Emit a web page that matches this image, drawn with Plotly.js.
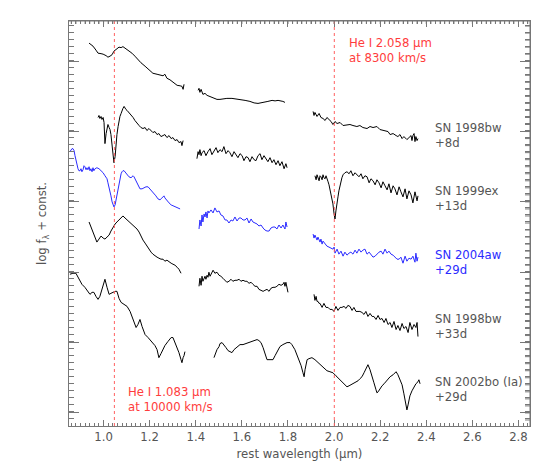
<!DOCTYPE html>
<html>
<head>
<meta charset="utf-8">
<script src="https://cdn.plot.ly/plotly-3.0.1.min.js"></script>
<style>
  body { margin: 0; background: #fff; }
  #chart { width: 550px; height: 472px; }
</style>
</head>
<body>
<div id="chart"></div>
<script>
"use strict";

// He I lines: rest wavelength (micron) and velocity (km/s)
const lineRest = [1.083, 2.058];
const lineVel = [10000, 8300];

// SN 1998bw +8d, three segments (J, H, K)
const w98bw8 = [
  [0.937,0.945,0.954,0.967,0.976,0.989,0.998,1.011,1.019,1.028,1.037,1.045,1.054,1.067,1.076,1.084,1.093,1.102,1.115,1.123,1.136,1.149,1.162,1.180,1.193,1.201,1.214,1.232,1.245,1.258,1.266,1.271,1.275,1.288,1.297,1.310,1.319,1.332,1.340,1.345,1.349],
  [1.410,1.414,1.418,1.423,1.431,1.440,1.449,1.462,1.475,1.492,1.505,1.518,1.535,1.557,1.575,1.592,1.614,1.635,1.653,1.670,1.687,1.700,1.713,1.731,1.744,1.757,1.770,1.778,1.787],
  [1.909,1.913,1.917,1.922,1.926,1.935,1.943,1.952,1.961,1.969,1.978,1.987,1.995,2.004,2.013,2.026,2.039,2.056,2.069,2.082,2.099,2.112,2.125,2.143,2.156,2.169,2.186,2.199,2.212,2.225,2.234,2.243,2.256,2.269,2.277,2.286,2.295,2.303,2.316,2.325,2.334,2.338,2.342,2.347,2.351,2.355,2.360,2.364]
];
const f98bw8 = [
  [38.1,37.95,37.8,37.4,37.1,37.05,37.0,36.85,36.7,36.8,36.95,37.3,37.5,37.7,37.65,37.75,37.6,37.45,37.25,37.1,36.8,36.45,36.15,35.8,35.5,35.3,35.1,35.0,34.95,34.85,35.0,34.7,34.6,34.45,34.3,34.05,33.9,33.85,33.8,33.5,34.0],
  [33.4,33.6,33.2,33.5,33.0,33.1,32.9,32.8,32.65,32.5,32.5,32.55,32.6,32.6,32.55,32.5,32.4,32.3,32.15,32.1,32.15,32.2,32.3,32.4,32.35,32.4,32.35,32.3,32.2],
  [31.3,30.9,31.2,31.0,30.8,31.1,30.7,30.6,30.4,30.7,30.5,30.3,30.0,30.3,30.1,30.2,29.9,30.0,30.0,29.9,29.8,29.9,29.7,29.6,29.8,29.7,29.8,29.5,29.4,29.3,29.3,29.0,29.1,28.9,28.8,29.0,28.6,28.8,28.5,28.7,28.9,28.4,28.9,29.1,28.3,28.8,28.4,28.6]
];

// SN 1999ex +13d
const w99ex = [
  [0.976,0.980,0.984,0.989,0.993,0.998,1.002,1.006,1.011,1.015,1.019,1.024,1.028,1.032,1.037,1.041,1.045,1.050,1.054,1.058,1.063,1.067,1.071,1.076,1.080,1.084,1.089,1.093,1.097,1.102,1.110,1.119,1.128,1.136,1.145,1.154,1.162,1.171,1.180,1.188,1.197,1.206,1.214,1.223,1.232,1.240,1.249,1.258,1.266,1.275,1.284,1.293,1.301,1.310,1.319,1.327,1.336,1.340,1.345],
  [1.405,1.410,1.414,1.418,1.423,1.427,1.436,1.444,1.453,1.462,1.470,1.479,1.488,1.496,1.505,1.514,1.522,1.531,1.540,1.548,1.557,1.566,1.575,1.583,1.592,1.601,1.609,1.618,1.627,1.635,1.644,1.653,1.661,1.670,1.679,1.687,1.696,1.705,1.713,1.722,1.731,1.739,1.748,1.757,1.765,1.774,1.783,1.791,1.796],
  [1.917,1.922,1.926,1.930,1.935,1.939,1.943,1.948,1.952,1.956,1.961,1.965,1.969,1.974,1.978,1.982,1.987,1.991,1.995,2.000,2.004,2.008,2.013,2.017,2.021,2.026,2.030,2.034,2.039,2.047,2.056,2.065,2.073,2.082,2.091,2.099,2.108,2.117,2.125,2.134,2.143,2.152,2.160,2.169,2.178,2.186,2.195,2.204,2.212,2.221,2.230,2.238,2.247,2.256,2.264,2.273,2.282,2.290,2.299,2.308,2.316,2.325,2.334,2.342,2.351,2.360,2.364]
];
const f99ex = [
  [30.7,30.9,30.6,30.8,30.5,30.7,30.2,28.1,29.1,29.8,30.0,29.7,29.5,29.0,27.6,26.6,26.2,26.8,28.1,29.0,29.8,30.4,30.8,31.1,31.4,31.6,31.8,31.6,31.5,31.4,31.2,30.9,30.7,30.4,30.1,29.9,29.7,29.6,29.7,29.4,29.6,29.4,29.2,29.3,29.0,29.1,28.8,28.9,29.0,28.7,28.9,28.6,28.7,28.4,28.5,28.2,28.3,27.9,28.4],
  [26.6,27.3,27.0,27.5,26.9,27.2,27.4,26.9,27.3,27.6,27.0,27.4,27.7,27.2,27.5,27.3,27.8,27.1,27.4,27.2,26.8,27.3,27.0,26.7,27.1,26.9,26.4,26.8,26.7,26.3,26.8,26.5,26.4,26.9,27.1,26.5,26.9,26.6,26.3,26.7,26.2,26.5,26.0,26.4,25.9,26.3,25.6,26.1,25.7],
  [24.9,24.5,25.0,24.7,24.4,24.9,24.8,24.5,25.0,24.7,24.6,24.9,24.5,24.3,24.0,23.6,23.0,22.6,22.1,21.1,20.6,21.4,22.0,22.8,23.4,24.0,24.4,24.7,25.0,25.2,25.3,25.1,25.4,24.9,25.2,25.0,24.8,25.1,24.6,24.9,24.8,24.2,24.6,24.4,24.0,24.5,24.2,23.7,24.3,23.9,23.5,24.1,23.2,23.9,23.6,23.0,23.8,23.3,22.8,23.6,22.6,23.4,23.0,22.2,23.3,22.4,22.9]
];

// SN 2004aw +29d
const w04aw = [
  [0.854,0.859,0.863,0.867,0.872,0.876,0.880,0.885,0.889,0.893,0.898,0.902,0.906,0.911,0.915,0.919,0.924,0.928,0.932,0.937,0.941,0.945,0.950,0.954,0.958,0.963,0.971,0.980,0.989,0.998,1.006,1.015,1.019,1.024,1.028,1.032,1.037,1.041,1.045,1.050,1.054,1.058,1.063,1.067,1.071,1.076,1.080,1.084,1.089,1.093,1.102,1.110,1.119,1.123,1.128,1.132,1.136,1.145,1.154,1.158,1.167,1.175,1.184,1.193,1.201,1.210,1.219,1.227,1.236,1.245,1.249,1.253,1.258,1.262,1.266,1.275,1.284,1.293,1.301,1.310,1.319,1.327,1.332],
  [1.414,1.418,1.423,1.427,1.431,1.436,1.440,1.444,1.449,1.453,1.457,1.466,1.475,1.483,1.492,1.501,1.509,1.518,1.527,1.535,1.544,1.553,1.561,1.570,1.579,1.588,1.596,1.605,1.614,1.622,1.631,1.640,1.648,1.657,1.666,1.674,1.683,1.692,1.700,1.709,1.718,1.726,1.735,1.744,1.752,1.761,1.770,1.778,1.787,1.791,1.796],
  [1.909,1.913,1.917,1.922,1.926,1.930,1.935,1.939,1.943,1.948,1.952,1.961,1.969,1.978,1.987,1.995,2.000,2.004,2.013,2.021,2.030,2.039,2.047,2.056,2.065,2.073,2.082,2.091,2.099,2.108,2.117,2.125,2.134,2.143,2.152,2.160,2.169,2.178,2.186,2.195,2.204,2.212,2.221,2.230,2.238,2.247,2.256,2.264,2.273,2.282,2.290,2.299,2.308,2.316,2.325,2.334,2.342,2.351,2.355,2.360,2.364]
];
const f04aw = [
  [27.3,27.5,27.6,27.6,27.4,26.9,26.4,26.0,25.6,25.4,25.4,25.6,25.3,25.5,25.9,25.8,25.5,25.7,25.5,25.8,25.4,25.6,25.3,25.7,25.4,25.6,25.7,25.6,25.4,25.2,24.9,24.6,24.2,23.8,23.4,22.9,22.3,22.0,21.8,22.0,22.5,23.1,23.7,24.3,24.7,25.1,25.3,25.4,25.4,25.3,25.1,24.8,24.7,24.8,24.9,24.8,24.6,24.2,23.8,23.6,23.6,23.7,23.8,23.8,23.6,23.4,23.2,22.9,22.6,22.5,22.6,22.7,22.9,22.9,22.7,22.4,22.2,22.0,21.9,21.8,21.7,21.6,21.6],
  [19.6,20.5,19.9,21.0,20.3,21.1,20.8,21.3,20.7,21.4,21.2,21.5,21.2,21.7,21.3,21.4,21.0,20.9,20.5,20.5,20.2,20.5,20.4,20.8,20.4,20.7,20.7,20.5,20.5,20.7,20.2,20.6,20.3,20.2,20.1,19.9,20.0,19.7,19.5,19.4,19.4,19.7,19.8,19.8,19.6,20.0,19.7,20.0,19.6,20.3,19.8],
  [19.1,18.7,19.0,18.8,18.5,18.8,18.6,18.3,18.6,18.1,18.4,18.1,17.9,17.8,17.7,17.6,17.8,17.2,17.6,17.1,17.4,16.9,17.3,17.0,17.2,17.3,17.1,17.5,17.2,17.6,17.3,17.5,17.6,17.1,17.3,17.0,16.8,16.9,17.1,17.3,17.4,17.1,17.6,17.2,17.4,17.1,17.0,16.8,16.6,16.6,16.8,16.2,16.9,16.4,16.7,16.6,16.9,16.3,17.2,16.4,16.8]
];

// SN 1998bw +33d
const w98bw33 = [
  [0.937,0.945,0.954,0.963,0.971,0.980,0.989,0.998,1.006,1.015,1.024,1.032,1.041,1.050,1.058,1.067,1.076,1.084,1.093,1.102,1.110,1.119,1.128,1.136,1.145,1.154,1.162,1.171,1.180,1.188,1.197,1.206,1.214,1.223,1.232,1.240,1.249,1.258,1.266,1.275,1.284,1.293,1.301,1.310,1.319,1.327,1.336],
  [1.414,1.418,1.423,1.427,1.431,1.436,1.440,1.444,1.449,1.453,1.457,1.462,1.466,1.475,1.483,1.492,1.501,1.509,1.518,1.527,1.535,1.544,1.553,1.561,1.570,1.579,1.588,1.596,1.605,1.614,1.622,1.631,1.640,1.648,1.657,1.666,1.674,1.683,1.692,1.700,1.709,1.718,1.726,1.735,1.744,1.752,1.761,1.770,1.778,1.783,1.787,1.791,1.796,1.800],
  [1.913,1.917,1.922,1.926,1.930,1.935,1.939,1.948,1.956,1.965,1.974,1.982,1.991,2.000,2.008,2.017,2.026,2.034,2.043,2.052,2.060,2.069,2.078,2.086,2.095,2.104,2.112,2.121,2.130,2.138,2.147,2.156,2.165,2.173,2.182,2.191,2.199,2.208,2.217,2.225,2.234,2.243,2.251,2.260,2.269,2.277,2.286,2.295,2.303,2.312,2.321,2.329,2.338,2.347,2.355,2.360,2.364]
];
const f98bw33 = [
  [20.3,19.8,19.3,18.8,18.3,18.6,18.9,18.7,18.6,18.8,19.0,19.4,19.8,20.1,20.3,20.5,20.8,20.9,20.7,20.5,20.4,20.2,20.0,19.8,19.6,19.3,18.9,18.5,18.2,17.9,17.6,17.3,17.1,16.9,16.8,16.7,16.6,16.6,16.4,16.5,16.3,16.2,16.1,16.0,15.8,15.6,15.2],
  [13.9,14.7,14.0,14.9,14.4,14.7,14.9,14.6,15.0,14.8,15.3,14.9,15.1,15.5,15.2,15.3,15.0,14.9,14.7,14.5,14.3,14.4,14.6,14.4,14.5,14.5,14.6,14.4,14.5,14.4,14.4,14.2,14.3,14.1,13.9,13.9,13.6,13.5,13.4,13.5,13.6,13.4,13.7,13.8,13.8,13.9,14.1,14.0,14.1,14.3,13.9,14.3,13.7,13.3],
  [13.1,12.5,12.9,12.4,12.4,12.2,12.2,11.8,12.2,11.8,11.8,11.6,11.6,11.4,11.9,11.5,11.8,11.8,11.9,11.7,12.0,11.9,11.5,11.8,11.4,11.4,11.4,11.3,11.1,11.4,10.9,11.2,10.9,10.9,10.6,11.0,10.6,10.7,10.3,10.7,10.1,10.3,9.8,10.4,9.6,10.0,9.5,10.2,9.7,9.9,9.3,10.3,9.6,10.1,9.8,10.3,8.9]
];

// SN 2002bo (Ia) +29d
const w02bo = [
  [0.854,0.867,0.880,0.889,0.898,0.906,0.919,0.932,0.941,0.950,0.958,0.967,0.976,0.984,0.989,0.998,1.006,1.015,1.024,1.032,1.041,1.050,1.058,1.067,1.076,1.089,1.102,1.115,1.123,1.132,1.141,1.149,1.158,1.167,1.180,1.193,1.201,1.214,1.223,1.232,1.240,1.249,1.258,1.266,1.279,1.293,1.301,1.310,1.319,1.327,1.336,1.340,1.345,1.349,1.353],
  [1.479,1.488,1.492,1.501,1.505,1.514,1.522,1.531,1.540,1.548,1.557,1.566,1.575,1.583,1.592,1.605,1.618,1.635,1.648,1.666,1.674,1.683,1.692,1.700,1.709,1.722,1.735,1.744,1.752,1.765,1.778,1.796,1.809,1.817,1.830,1.839,1.848,1.857,1.865,1.870,1.874,1.883,1.891,1.904,1.917,1.930,1.943,1.956,1.969,1.982,1.995,2.008,2.021,2.030,2.039,2.047,2.056,2.065,2.073,2.082,2.091,2.104,2.112,2.121,2.130,2.138,2.147,2.156,2.165,2.173,2.182,2.186,2.191,2.199,2.208,2.217,2.230,2.243,2.256,2.269,2.277,2.286,2.295,2.303,2.312,2.316,2.321,2.325,2.329,2.338,2.347,2.355,2.364,2.368,2.373]
];
const f02bo = [
  [15.1,15.2,15.2,14.8,14.4,14.1,13.8,13.4,13.1,13.3,13.3,12.9,12.6,12.9,13.3,14.0,14.6,13.8,13.1,13.2,13.3,13.4,13.4,12.7,12.3,12.1,11.9,11.4,10.9,10.4,9.8,10.1,10.6,9.9,9.1,8.8,8.6,8.2,8.0,7.6,6.8,7.2,7.6,8.0,8.4,8.8,8.8,8.3,7.9,7.3,6.6,6.3,6.8,7.0,7.4],
  [6.8,7.4,7.6,7.9,8.2,8.3,8.0,7.8,7.5,7.4,7.3,7.6,7.8,8.0,8.1,8.1,8.2,8.3,8.4,8.6,8.5,8.3,7.8,7.1,6.6,6.6,6.6,7.0,7.4,7.9,8.1,8.3,8.3,8.1,7.6,7.1,6.6,6.0,5.3,4.9,5.6,6.6,6.7,6.8,6.6,6.3,6.0,5.7,5.5,5.4,5.3,5.0,4.7,4.5,4.3,4.1,3.9,4.0,4.1,4.2,4.3,4.5,4.7,4.9,5.3,5.7,6.1,5.6,5.0,4.3,3.6,3.3,3.4,3.7,4.0,4.2,4.6,4.9,5.1,5.4,5.1,4.6,4.1,3.2,2.2,1.6,2.1,2.6,3.0,3.5,3.9,4.2,4.4,4.6,4.2]
];

const names = ["SN 1998bw<br>+8d", "SN 1999ex<br>+13d", "SN 2004aw<br>+29d", "SN 1998bw<br>+33d", "SN 2002bo (Ia)<br>+29d"];
const labelY = [28.95, 22.6, 16.3, 9.95, 3.65];
const waves = [w98bw8, w99ex, w04aw, w98bw33, w02bo];
const fluxes = [f98bw8, f99ex, f04aw, f98bw33, f02bo];
const colors = ["#000000", "#000000", "#2b2bff", "#000000", "#000000"];

const grey = "#555555";
const red = "#ff3c3c";
const axisGrey = "#777777";
const font = "DejaVu Sans, Arial, sans-serif";
const fs = 11.7;

const xRange = [0.85, 2.85];
const yRange = [0, 40.3];
const xMinor = 0.02, yMinor = 0.7, yTick0 = 1.3;

// join segments with a null so the gaps stay open
function joinSegs(segs) {
  return segs.flatMap((s, i) => (i ? [null].concat(s) : s));
}

const traces = waves.map((w, i) => ({
  x: joinSegs(w),
  y: joinSegs(fluxes[i]),
  type: "scatter",
  mode: "lines",
  line: {color: colors[i], width: 1},
  connectgaps: false,
  hoverinfo: "skip",
}));

const shifted = lineRest.map((l, i) => l * (1 - lineVel[i] / 299792));

const shapes = shifted.map(x => ({
  type: "line", xref: "x", yref: "paper",
  x0: x, x1: x, y0: 0, y1: 1,
  line: {color: "#ff6060", width: 1, dash: "dot"},
}));

// top and right frame with their small ticks (plotly does not mirror minor ticks)
const tickLine = {color: axisGrey, width: 1};
shapes.push({type: "line", xref: "paper", yref: "paper", x0: 0, x1: 1, y0: 1, y1: 1, line: tickLine});
shapes.push({type: "line", xref: "paper", yref: "paper", x0: 1, x1: 1, y0: 0, y1: 1, line: tickLine});
for (let k = Math.ceil(xRange[0] / xMinor); k * xMinor <= xRange[1]; k++) {
  shapes.push({type: "line", xref: "x", yref: "paper", ysizemode: "pixel", yanchor: 1,
    x0: k * xMinor, x1: k * xMinor, y0: 0, y1: -3, line: tickLine});
}
for (let k = Math.ceil((yRange[0] - yTick0) / yMinor); yTick0 + k * yMinor <= yRange[1]; k++) {
  const y = yTick0 + k * yMinor;
  shapes.push({type: "line", xref: "paper", yref: "y", xsizemode: "pixel", xanchor: 1,
    x0: 0, x1: -5, y0: y, y1: y, line: tickLine});
}

const annotations = names.map((n, i) => ({
  x: 2.429, y: labelY[i], xref: "x", yref: "y",
  xanchor: "left", yanchor: "middle", align: "left",
  text: n, showarrow: false,
  font: {family: font, size: fs, color: i === 2 ? colors[2] : grey},
}));
annotations.push({
  x: 2.056, y: 37.35, xref: "x", yref: "y", xanchor: "left", yanchor: "middle", align: "left",
  text: "He I 2.058 μm<br>at 8300 km/s", showarrow: false,
  font: {family: font, size: fs, color: red},
});
annotations.push({
  x: 1.097, y: 2.65, xref: "x", yref: "y", xanchor: "left", yanchor: "middle", align: "left",
  text: "He I 1.083 μm<br>at 10000 km/s", showarrow: false,
  font: {family: font, size: fs, color: red},
});

const layout = {
  width: 550, height: 472,
  margin: {l: 69, r: 20, t: 21, b: 46},
  paper_bgcolor: "#fff", plot_bgcolor: "#fff",
  showlegend: false,
  hovermode: false,
  font: {family: font, size: fs, color: grey},
  xaxis: {
    range: xRange, tick0: 0, dtick: 0.2, tickformat: ".1f",
    ticks: "inside", ticklen: 6, tickcolor: axisGrey,
    minor: {dtick: xMinor, ticks: "inside", ticklen: 3, tickcolor: axisGrey},
    showline: true, linecolor: axisGrey, mirror: "allticks",
    showgrid: false, zeroline: false,
    tickfont: {family: font, size: fs, color: grey},
    title: {text: "rest wavelength (μm)", font: {family: font, size: fs, color: grey}, standoff: 6},
  },
  yaxis: {
    range: yRange, tick0: yTick0, dtick: 7,
    ticks: "inside", ticklen: 10, tickcolor: axisGrey,
    minor: {dtick: yMinor, ticks: "inside", ticklen: 5, tickcolor: axisGrey},
    showline: true, linecolor: axisGrey, mirror: "allticks",
    showgrid: false, zeroline: false, showticklabels: false,
    title: {text: "log f<sub>λ</sub> + const.", font: {family: font, size: fs, color: grey}, standoff: 18},
  },
  shapes: shapes,
  annotations: annotations,
};

Plotly.newPlot("chart", traces, layout, {staticPlot: true, displayModeBar: false});
</script>
</body>
</html>
